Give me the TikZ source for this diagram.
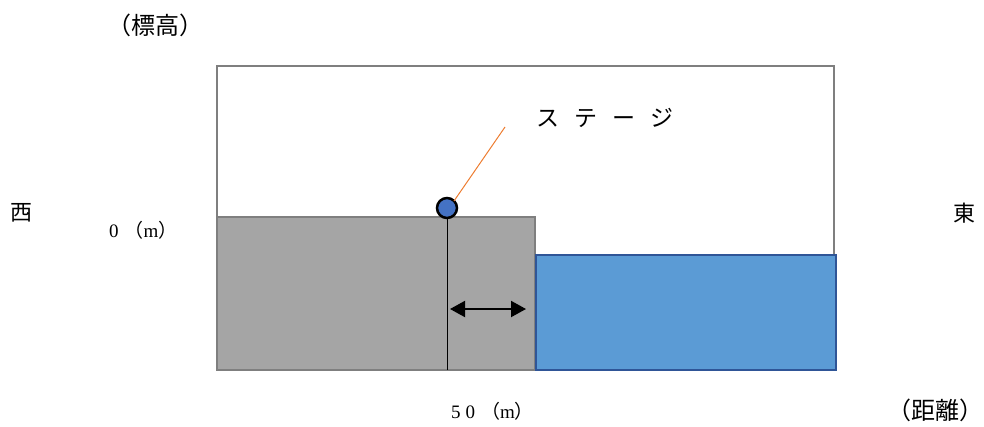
\documentclass[tikz,border=0pt]{standalone}
\usepackage{fontspec}
\newfontfamily\cjk{Noto Sans CJK JP}
\setmainfont{Liberation Serif}
\usetikzlibrary{arrows.meta}
\definecolor{grayfill}{HTML}{A5A5A5}
\definecolor{grayline}{HTML}{7F7F7F}
\definecolor{bluefill}{HTML}{5B9BD5}
\definecolor{blueline}{HTML}{2F5597}
\definecolor{dotblue}{HTML}{4472C4}
\definecolor{orangeline}{HTML}{ED7D31}
\tikzset{
  lbl/.style={inner sep=0pt, font=\cjk\fontsize{22}{26}\selectfont},
  paren/.style={inner sep=0pt, font=\cjk\fontsize{24}{28}\selectfont},
  stagelbl/.style={inner sep=0pt, font=\cjk\fontsize{23}{26}\selectfont},
  small/.style={inner sep=0pt, font=\fontsize{19}{22}\selectfont},
}
\begin{document}
\begin{tikzpicture}[x=1pt,y=-1pt]
\useasboundingbox (0,0) rectangle (984,426);
% frame
\draw[grayline, line width=1.5pt] (217,66) rectangle (834,370);
% land
\draw[grayline, fill=grayfill, line width=2pt] (217,217) rectangle (535,370);
% water
\draw[blueline, fill=bluefill, line width=2pt] (536,255) rectangle (836,370);
% vertical line
\coordinate (vtop) at (447,217);
\coordinate (vbot) at (447,370);
\draw[black, line width=1pt] (vtop) -- (vbot);
% arrow
\coordinate (al) at (450,309);
\coordinate (ar) at (526,309);
\draw[black, line width=2pt, {Triangle[length=15pt,width=16pt]}-{Triangle[length=15pt,width=16pt]}] (al) -- (ar);
% stage dot
\node[circle, draw=black, line width=2.5pt, fill=dotblue, minimum size=20pt, inner sep=0pt] (dot) at (447,208) {};
\coordinate (lend) at (505,127);
\draw[orangeline, line width=1pt] (dot.north east) ++(-1,1) -- (lend);
\node[stagelbl, anchor=west] (stage) at (536,118) {ス\hspace{15pt}テ\hspace{15pt}ー\hspace{15pt}ジ};
% labels
\node[lbl] (west) at (21,213) {西};
\node[lbl] (east) at (964,213) {東};
\node[paren] (elev) at (155,25) {（標高）};
\node[paren] (dist) at (935,410) {（距離）};
\node[small, anchor=west] (zero) at (109,230) {0\hspace{6pt}{\cjk （}m{\cjk ）}};
\node[small, anchor=west] (fifty) at (451,411) {5\hspace{5pt}0\hspace{6pt}{\cjk （}m{\cjk ）}};
\end{tikzpicture}
\end{document}
